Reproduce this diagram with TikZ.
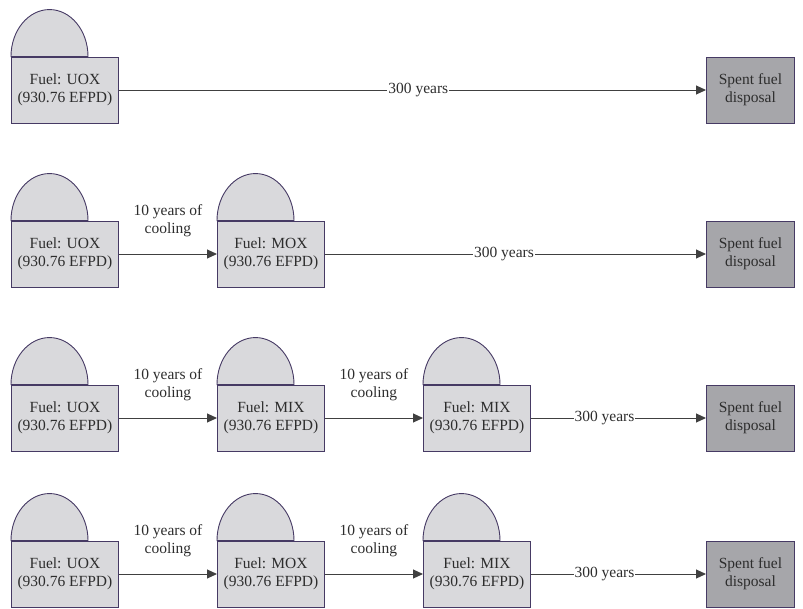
\documentclass[tikz,border=0pt]{standalone}
\usepackage{fontspec}
\setmainfont{Liberation Serif}
\usetikzlibrary{arrows.meta}
\definecolor{fuelfill}{RGB}{217,217,220}
\definecolor{spentfill}{RGB}{166,166,170}
\definecolor{edgecol}{RGB}{70,58,100}
\definecolor{arrowcol}{RGB}{64,64,64}
\definecolor{txtcol}{RGB}{45,45,45}
\tikzset{
  fuelbox/.style={draw=edgecol, fill=fuelfill, line width=0.9pt, minimum width=107pt, minimum height=66pt, inner sep=0pt, align=center, font=\fontsize{15.5}{18}\selectfont, text=txtcol, anchor=west},
  spentbox/.style={draw=edgecol, fill=spentfill, line width=0.9pt, minimum width=88pt, minimum height=66pt, inner sep=0pt, align=center, font=\fontsize{15.5}{18}\selectfont, text=txtcol, anchor=west},
  flow/.style={draw=arrowcol, line width=1pt, -{Triangle[length=10pt,width=9pt]}},
  lbl/.style={font=\fontsize{15.5}{18}\selectfont, text=txtcol, fill=white, inner sep=1pt},
  cool/.style={font=\fontsize{15.5}{18}\selectfont, text=txtcol, align=center, above, inner sep=2pt, yshift=15pt},
}
\newcommand{\dome}[1]{\draw[draw=edgecol, fill=fuelfill, line width=0.9pt] (#1.north west) arc[start angle=180, end angle=0, x radius=38.5pt, y radius=47pt] -- cycle;}
\begin{document}
\begin{tikzpicture}[x=1pt,y=-1pt]
\useasboundingbox (0,0) rectangle (803,608);
% Row 1
\node[fuelbox] (a1) at (11,90) {Fuel: UOX\\(930.76 EFPD)};
\dome{a1}
\node[spentbox] (s1) at (706,90) {Spent fuel\\disposal};
\draw[flow] (a1) -- node[lbl, pos=0.51] {300 years} (s1);
% Row 2
\node[fuelbox] (b1) at (11,254) {Fuel: UOX\\(930.76 EFPD)};
\dome{b1}
\node[fuelbox] (b2) at (217,254) {Fuel: MOX\\(930.76 EFPD)};
\dome{b2}
\node[spentbox] (s2) at (706,254) {Spent fuel\\disposal};
\draw[flow] (b1) -- node[cool] {10 years of\\cooling} (b2);
\draw[flow] (b2) -- node[lbl, pos=0.47] {300 years} (s2);
% Row 3
\node[fuelbox] (c1) at (11,418) {Fuel: UOX\\(930.76 EFPD)};
\dome{c1}
\node[fuelbox] (c2) at (217,418) {Fuel: MIX\\(930.76 EFPD)};
\dome{c2}
\node[fuelbox] (c3) at (423,418) {Fuel: MIX\\(930.76 EFPD)};
\dome{c3}
\node[spentbox] (s3) at (706,418) {Spent fuel\\disposal};
\draw[flow] (c1) -- node[cool] {10 years of\\cooling} (c2);
\draw[flow] (c2) -- node[cool] {10 years of\\cooling} (c3);
\draw[flow] (c3) -- node[lbl, pos=0.42] {300 years} (s3);
% Row 4
\node[fuelbox] (d1) at (11,574) {Fuel: UOX\\(930.76 EFPD)};
\dome{d1}
\node[fuelbox] (d2) at (217,574) {Fuel: MOX\\(930.76 EFPD)};
\dome{d2}
\node[fuelbox] (d3) at (423,574) {Fuel: MIX\\(930.76 EFPD)};
\dome{d3}
\node[spentbox] (s4) at (706,574) {Spent fuel\\disposal};
\draw[flow] (d1) -- node[cool] {10 years of\\cooling} (d2);
\draw[flow] (d2) -- node[cool] {10 years of\\cooling} (d3);
\draw[flow] (d3) -- node[lbl, pos=0.42] {300 years} (s4);
\end{tikzpicture}
\end{document}
